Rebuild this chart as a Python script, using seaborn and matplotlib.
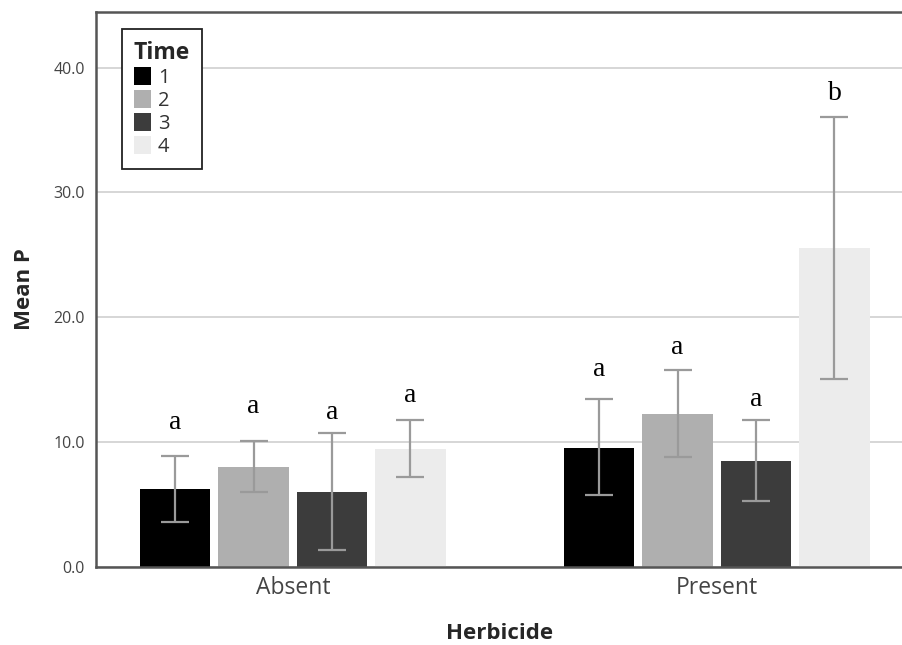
import numpy as np
import pandas as pd
import matplotlib
matplotlib.use("Agg")
import matplotlib.pyplot as plt
import seaborn as sns
from matplotlib.patches import Patch

# ---- data ----
herbicide = ["Absent", "Absent", "Absent", "Absent",
             "Present", "Present", "Present", "Present"]
time = ["1", "2", "3", "4", "1", "2", "3", "4"]
mean_p = [6.25, 7.99, 5.96, 9.43, 9.54, 12.24, 8.47, 25.52]
err_low = [3.58, 6.01, 1.31, 7.21, 5.75, 8.82, 5.27, 15.05]
err_high = [8.90, 10.05, 10.69, 11.73, 13.42, 15.77, 11.73, 36.02]
letters = ["a", "a", "a", "a", "a", "a", "a", "b"]
letter_y = [11.55, 12.83, 12.32, 13.76, 15.77, 17.53, 13.44, 37.96]

categories = ["Absent", "Present"]
time_levels = ["1", "2", "3", "4"]
palette = ["#000000", "#afafaf", "#3c3c3c", "#ececec"]

df = pd.DataFrame({"Herbicide": herbicide, "Time": time, "Mean P": mean_p,
                   "lo": err_low, "hi": err_high, "lab": letters, "ly": letter_y})

sns.set_style("white")
plt.rcParams["font.family"] = ["Open Sans", "DejaVu Sans"]

fig = plt.figure(figsize=(9.02, 6.45), dpi=100)
ax = fig.add_axes([96 / 902, 1 - 566.7 / 645, 1 - 96 / 902 + 0.002, (566.7 - 12) / 645])

ax.yaxis.grid(True, color="#cfcfcf", linewidth=1.2)
ax.set_axisbelow(True)

sns.barplot(data=df, x="Herbicide", y="Mean P", hue="Time",
            order=categories, hue_order=time_levels, palette=palette,
            errorbar=None, width=0.74, gap=0.1, saturation=1,
            linewidth=0, ax=ax, legend=False)

# error bars and letters at the bar centres given by seaborn's patches
bars = [p for p in ax.patches]
for i, t in enumerate(time_levels):
    for j, c in enumerate(categories):
        row = df[(df["Herbicide"] == c) & (df["Time"] == t)].iloc[0]
        p = bars[i * len(categories) + j]
        xc = p.get_x() + p.get_width() / 2
        m = row["Mean P"]
        ax.errorbar(xc, m, yerr=[[m - row["lo"]], [row["hi"] - m]],
                    fmt="none", ecolor="#9a9a9a", elinewidth=1.6,
                    capsize=10, capthick=1.6, zorder=5)
        ax.text(xc, row["ly"], row["lab"], ha="center", va="center",
                fontsize=20, family="Liberation Serif", color="black", zorder=6)

ax.set_ylim(0, 44.46)
ax.set_xlim(-0.464, 1.441)
ax.set_yticks([0, 10, 20, 30, 40])
ax.set_yticklabels(["0.0", "10.0", "20.0", "30.0", "40.0"])
ax.tick_params(axis="y", length=0, labelsize=11.5, labelcolor="#444444", pad=8)
ax.tick_params(axis="x", length=0, labelsize=16.5, labelcolor="#444444", pad=7)

ax.set_xlabel("Herbicide", fontsize=16, fontweight="bold", labelpad=16)
ax.set_ylabel("Mean P", fontsize=16, fontweight="bold", labelpad=13)

for side in ["left", "bottom", "top"]:
    ax.spines[side].set_visible(True)
    ax.spines[side].set_color("#555555")
    ax.spines[side].set_linewidth(1.8)
ax.spines["right"].set_visible(False)

handles = [Patch(facecolor=col, edgecolor="none") for col in palette]
leg = ax.legend(handles, time_levels, title="Time", loc="upper left",
                bbox_to_anchor=(0.032, 0.969), fontsize=14.5,
                title_fontproperties={"weight": "bold", "size": 16.5},
                handlelength=0.85, handleheight=1.0, handletextpad=0.35,
                labelspacing=0.1, borderpad=0.6, fancybox=False,
                frameon=True, framealpha=1, borderaxespad=0)
leg.get_frame().set_edgecolor("#222222")
leg.get_frame().set_linewidth(1.3)
for t in leg.get_texts():
    t.set_color("#333333")
leg._legend_box.align = "left"

fig.savefig("out.png", dpi=100)
